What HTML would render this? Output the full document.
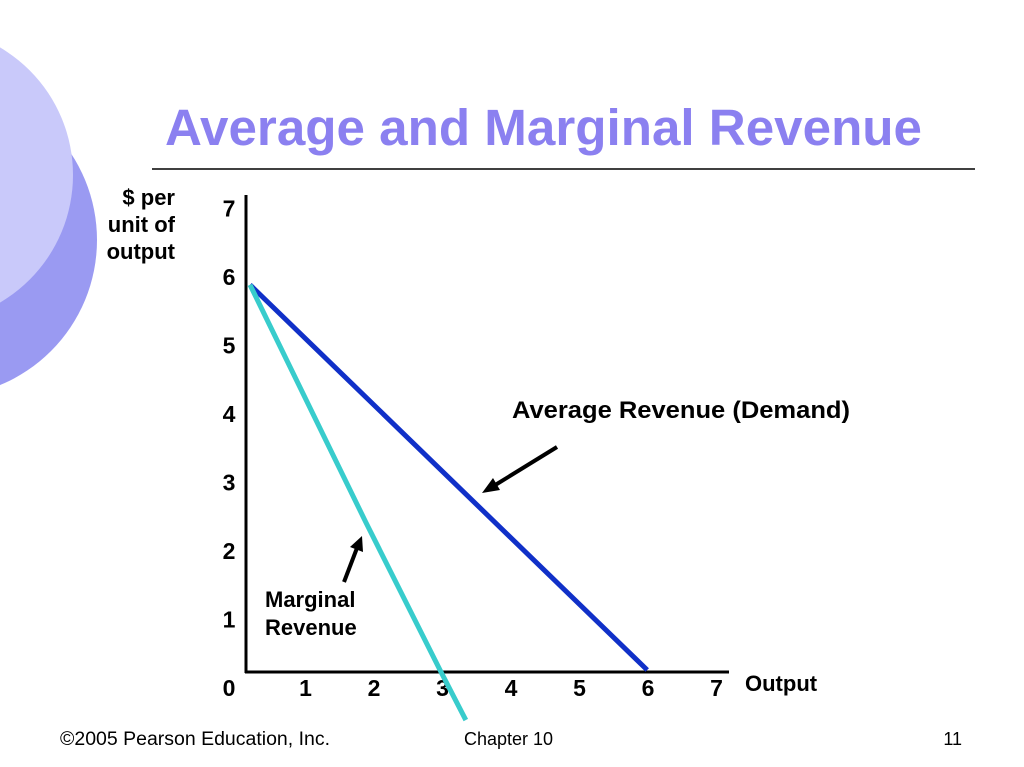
<!DOCTYPE html>
<html><head><meta charset="utf-8"><style>
body{margin:0;width:1024px;height:767px;overflow:hidden;background:#fff;font-family:"Liberation Sans",sans-serif;}
svg{display:block}
</style></head><body>
<svg width="1024" height="767">
<circle cx="-60" cy="240" r="157" fill="#9a9af2"/>
<circle cx="-75" cy="175" r="148" fill="#c9c9fa"/>
<text x="165" y="145" font-size="51" font-weight="bold" fill="#8b80f0" textLength="757" lengthAdjust="spacingAndGlyphs">Average and Marginal Revenue</text>
<line x1="152" y1="169" x2="975" y2="169" stroke="#000" stroke-width="1.5"/>
<g font-size="22" font-weight="bold" text-anchor="end">
<text x="175" y="205">$ per</text><text x="175" y="232">unit of</text><text x="175" y="259">output</text></g>
<line x1="246" y1="195" x2="246" y2="673" stroke="#000" stroke-width="3"/>
<line x1="245" y1="672" x2="729" y2="672" stroke="#000" stroke-width="3"/>
<g id="ticks" font-size="23" font-weight="bold" text-anchor="middle"></g>
<text x="745" y="691" font-size="22" font-weight="bold">Output</text>
<g id="lines"></g>
<text x="512" y="418" font-size="24" font-weight="bold" textLength="338" lengthAdjust="spacingAndGlyphs">Average Revenue (Demand)</text>
<line x1="557" y1="447" x2="492" y2="487" stroke="#000" stroke-width="4"/>
<polygon points="482,493 493,478 500,490" fill="#000"/>
<text x="265" y="607" font-size="22" font-weight="bold">Marginal</text>
<text x="265" y="635" font-size="22" font-weight="bold">Revenue</text>
<line x1="344" y1="582" x2="357" y2="548" stroke="#000" stroke-width="4"/>
<polygon points="362,536 363,552 350,547" fill="#000"/>
<text x="60" y="745" font-size="19" textLength="270" lengthAdjust="spacingAndGlyphs">©2005 Pearson Education, Inc.</text>
<text x="464" y="745" font-size="18">Chapter 10</text>
<text x="962" y="745" font-size="18" text-anchor="end">11</text>
</svg>
<script>
const xTicks=[1,2,3,4,5,6,7];
const yTicks=[0,1,2,3,4,5,6,7];
const arQ=[0,6];
const arP=[6,0];
const mrQ=[0,1.75,2.87,3.26];
const mrP=[6,2.3,0,-0.78];
const ns="http://www.w3.org/2000/svg";
function xs(q){return 250+66.2*q;}
function ys(p){return 670-64.2*p;}
function xl(q){return 237+68.5*q;}
function yl(p){return 696-68.5*p;}
const tg=document.getElementById('ticks');
yTicks.forEach(v=>{const t=document.createElementNS(ns,'text');t.setAttribute('x',229);t.setAttribute('y',yl(v));t.textContent=v;


tg.appendChild(t);});
xTicks.forEach(v=>{const t=document.createElementNS(ns,'text');t.setAttribute('x',xl(v));t.setAttribute('y',696);t.textContent=v;


tg.appendChild(t);});
const lg=document.getElementById('lines');
function line(qs,ps,c,name){const l=document.createElementNS(ns,'polyline');
l.setAttribute('points',qs.map((q,i)=>xs(q)+','+ys(ps[i])).join(' '));
l.setAttribute('fill','none');l.setAttribute('stroke',c);l.setAttribute('stroke-width',5);l.setAttribute('stroke-linejoin','round');


lg.appendChild(l);}
line(arQ,arP,'#1030c8','average-revenue-line');
line(mrQ,mrP,'#38cccc','marginal-revenue-line');
</script>
</body></html>
